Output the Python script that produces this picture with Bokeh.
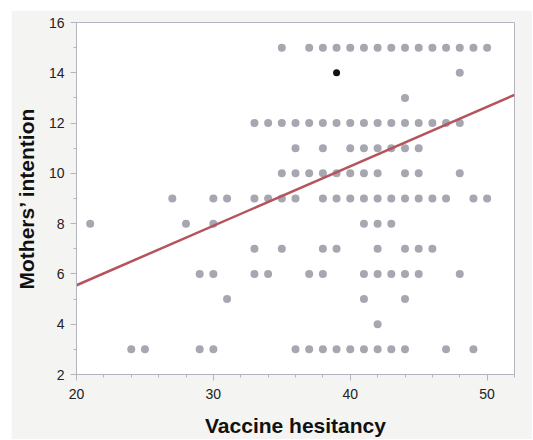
from bokeh.plotting import figure
from bokeh.embed import file_html
from bokeh.resources import INLINE
from bokeh.models import SingleIntervalTicker, Range1d

# Data: for each intention level, the vaccine hesitancy scores observed
intention_levels = [15, 14, 13, 12, 11, 10, 9, 8, 7, 6, 5, 4, 3]
hesitancy_15 = [35, 37, 38, 39, 40, 41, 42, 43, 44, 45, 46, 47, 48, 49, 50]
hesitancy_14 = [48]
hesitancy_13 = [44]
hesitancy_12 = [33, 34, 35, 36, 37, 38, 39, 40, 41, 42, 43, 44, 45, 46, 47, 48]
hesitancy_11 = [36, 38, 40, 41, 42, 43, 44, 45]
hesitancy_10 = [35, 36, 37, 38, 39, 40, 41, 42, 44, 45, 48]
hesitancy_9 = [27, 30, 31, 33, 34, 35, 36, 38, 39, 40, 41, 42, 43, 44, 45, 46, 47, 49, 50]
hesitancy_8 = [21, 28, 30, 41, 42, 43]
hesitancy_7 = [33, 35, 38, 39, 42, 44, 45, 46]
hesitancy_6 = [29, 30, 33, 34, 37, 38, 41, 42, 43, 44, 45, 48]
hesitancy_5 = [31, 41, 44]
hesitancy_4 = [42]
hesitancy_3 = [24, 25, 29, 30, 36, 37, 38, 39, 40, 41, 42, 43, 44, 47, 49]

highlight_x = [39]
highlight_y = [14]

fit_x = [20, 52]
fit_y = [5.55, 13.12]

rows = [hesitancy_15, hesitancy_14, hesitancy_13, hesitancy_12, hesitancy_11,
        hesitancy_10, hesitancy_9, hesitancy_8, hesitancy_7, hesitancy_6,
        hesitancy_5, hesitancy_4, hesitancy_3]
xs, ys = [], []
for lvl, row in zip(intention_levels, rows):
    for h in row:
        xs.append(h)
        ys.append(lvl)

FRAME = "#b4b4c0"
BG = "#f4f4f2"
FONT = "Liberation Sans"

p = figure(width=521, height=429, output_backend="svg", toolbar_location=None,
           x_range=Range1d(20, 52), y_range=Range1d(2, 16),
           min_border_left=65, min_border_right=18, min_border_top=12,
           min_border_bottom=65)
p.margin = (10, 0, 0, 11)
p.border_fill_color = BG
p.background_fill_color = "white"
p.outline_line_color = FRAME
p.outline_line_width = 1
p.grid.visible = False

p.scatter(xs, ys, size=8, color="#a7a7b1", line_color=None)
p.line(fit_x, fit_y, line_color="#b5545c", line_width=2.5)
p.scatter(highlight_x, highlight_y, size=7, color="#111111", line_color=None)

p.xaxis.ticker = SingleIntervalTicker(interval=10, num_minor_ticks=5)
p.yaxis.ticker = SingleIntervalTicker(interval=2, num_minor_ticks=2)

for ax in (p.xaxis, p.yaxis):
    ax.axis_line_color = FRAME
    ax.major_tick_line_color = FRAME
    ax.minor_tick_line_color = FRAME
    ax.major_tick_in = 0
    ax.major_tick_out = 6
    ax.minor_tick_in = 0
    ax.minor_tick_out = 3
    ax.major_label_text_font = FONT
    ax.major_label_text_font_size = "14px"
    ax.major_label_text_color = "#222222"
    ax.axis_label_text_font = FONT
    ax.axis_label_text_font_style = "bold"
    ax.axis_label_text_font_size = "21px"
    ax.axis_label_text_color = "#111111"

p.xaxis.axis_label = "Vaccine hesitancy"
p.yaxis.axis_label = "Mothers\u2019 intention"
p.xaxis.major_label_standoff = 8
p.yaxis.major_label_standoff = 6
p.xaxis.axis_label_standoff = 12
p.yaxis.axis_label_standoff = 8

open("out.html", "w").write(file_html(p, INLINE))
